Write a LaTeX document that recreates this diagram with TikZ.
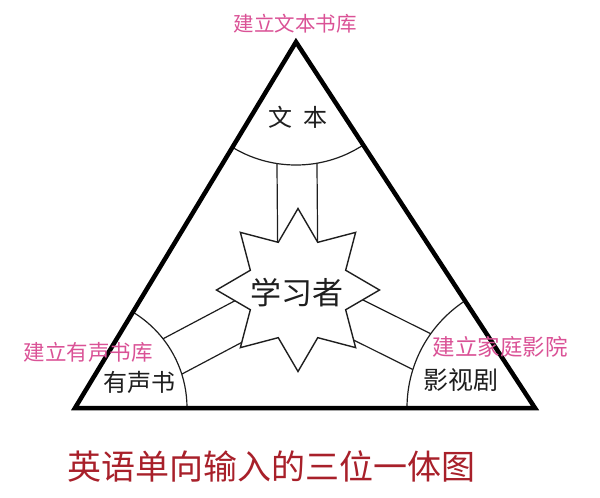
\documentclass[tikz,border=0pt]{standalone}
\usepackage{fontspec}
\newfontfamily\cjk{Noto Sans CJK SC}
\usetikzlibrary{calc,shapes.geometric}
\definecolor{pinklabel}{RGB}{218,82,150}
\definecolor{titlered}{RGB}{168,32,42}
\definecolor{ink}{RGB}{30,30,30}
\begin{document}
\begin{tikzpicture}[x=1pt,y=-1pt,
  band/.style={line width=1.2pt, draw=ink},
  arcline/.style={line width=1.2pt, draw=ink},
  frame/.style={line width=4.5pt, line join=miter, draw=black},
  pinklbl/.style={font=\cjk\fontsize{21.5}{21.5}\selectfont, text=pinklabel, inner sep=0},
  blk/.style={font=\cjk\fontsize{24}{24}\selectfont, text=ink, inner sep=0}]
\useasboundingbox (0,0) rectangle (600,498);
\coordinate (T) at (296,42);
\coordinate (L) at (75,408);
\coordinate (R) at (535,408);
\coordinate (C) at (298,290);
\begin{scope}
  \clip (T) -- (L) -- (R) -- cycle;
  % bands
  \foreach \k in {T,L,R} {
    \draw[band] ($(\k)!20pt!90:(C)$) -- ($(C)!20pt!-90:(\k)$);
    \draw[band] ($(\k)!20pt!-90:(C)$) -- ($(C)!20pt!90:(\k)$);
  }
  % sectors
  \filldraw[arcline, fill=white] (T) circle [radius=123pt];
  \filldraw[arcline, fill=white] (L) circle [radius=112pt];
  \filldraw[arcline, fill=white] (R) circle [radius=128pt];
\end{scope}
% star
\node[star, star points=8, star point ratio=1.58, minimum size=163pt, inner sep=0pt,
      draw=ink, line width=1.4pt, fill=white] (star) at (C) {};
\node[font=\cjk\fontsize{31}{31}\selectfont, text=ink, inner sep=0] (learner) at (297,293) {学习者};
% frame
\draw[frame] (T) -- (L) -- (R) -- cycle;
% labels
\node[blk] (text) at (298,117) {文\hspace{11pt}本};
\node[blk] (audio) at (139,382) {有声书};
\node[blk, font=\cjk\fontsize{25}{25}\selectfont] (film) at (461,380) {影视剧};
\node[pinklbl, font=\cjk\fontsize{20.5}{20.5}\selectfont] (lib1) at (295,24) {建立文本书库};
\node[pinklbl] (lib2) at (88,352) {建立有声书库};
\node[pinklbl, font=\cjk\fontsize{22.5}{22.5}\selectfont] (lib3) at (500,347) {建立家庭影院};
\node[font=\cjk\fontsize{34}{34}\selectfont, text=titlered, inner sep=0] (title) at (271,466) {英语单向输入的三位一体图};
\end{tikzpicture}
\end{document}
